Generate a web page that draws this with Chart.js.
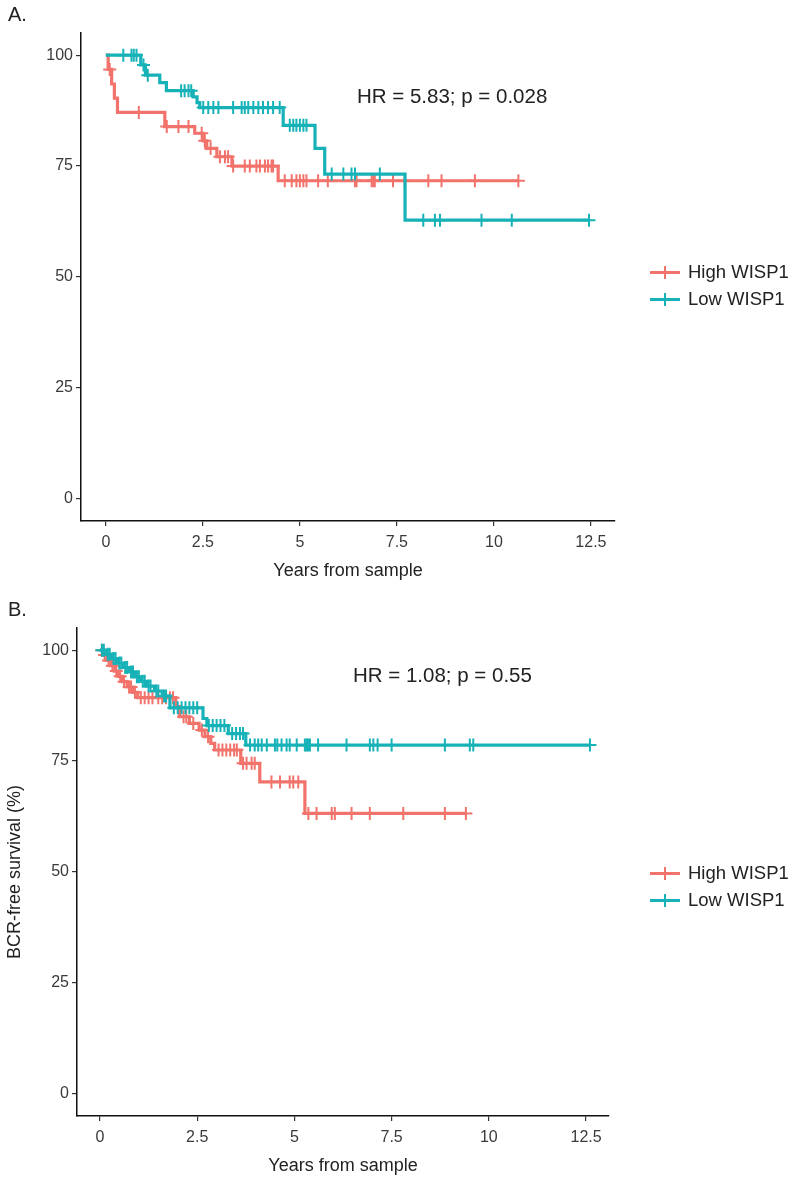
<!DOCTYPE html>
<html>
<head>
<meta charset="utf-8">
<script src="https://cdn.jsdelivr.net/npm/chart.js@4"></script>
<style>
  html, body { margin: 0; padding: 0; background: #fff; }
  #page { position: relative; width: 800px; height: 1177px; overflow: hidden; font-family: "Liberation Sans", Arial, sans-serif; color: #222; }
  .panel { position: absolute; left: 0; width: 800px; height: 590px; }
  .tag { position: absolute; font-size: 20px; color: #222; }
  .hr { position: absolute; font-size: 20.5px; color: #222; white-space: nowrap; }
  .leg { position: absolute; font-size: 18.5px; color: #222; white-space: nowrap; }
  .key { position: absolute; width: 30px; height: 3px; }
  .key i { position: absolute; left: 14px; top: -5px; width: 2px; height: 13px; background: inherit; }
</style>
</head>
<body>
<div id="page">
  <div class="panel" style="top:0"><canvas id="chartA" width="800" height="590"></canvas></div>
  <div class="panel" style="top:595px"><canvas id="chartB" width="800" height="590"></canvas></div>
  <div class="tag" style="left:8px;top:3px">A.</div>
  <div class="tag" style="left:8px;top:598px">B.</div>
  <div class="hr" style="left:357px;top:84px">HR = 5.83; p = 0.028</div>
  <div class="hr" style="left:353px;top:663px">HR = 1.08; p = 0.55</div>
  <div id="legA"></div>
  <div id="legB"></div>
</div>
<script>
const xTicks = [0, 2.5, 5, 7.5, 10, 12.5];
const yTicks = [0, 25, 50, 75, 100];
const groups = ['High WISP1', 'Low WISP1'];
const colors = ['#F2736B', '#17B2B7'];

// Panel A - events (time, survival %) and censor times
const aHighTime = [0.06, 0.15, 0.22, 0.3, 1.52, 2.29, 2.51, 2.6, 2.86, 3.25, 4.44];
const aHighSurv = [96.8, 93.5, 90.3, 87.1, 83.9, 82.4, 80.7, 79.0, 77.1, 75.0, 71.7];
const aHighCensor = [0.1, 0.85, 1.57, 1.87, 2.13, 2.47, 2.55, 2.7, 2.94, 3.07, 3.15,
  3.28, 3.58, 3.71, 3.88, 3.97, 4.1, 4.18, 4.27, 4.31,
  4.61, 4.79, 4.91, 5.0, 5.09, 5.17, 5.47, 5.72, 6.42, 6.46, 6.85, 6.89, 6.93,
  7.4, 7.7, 8.31, 8.65, 9.51, 10.63];
const aLowTime = [0.9, 1.02, 1.39, 1.56, 2.25, 2.35, 2.42, 4.57, 5.39, 5.64, 7.71];
const aLowSurv = [97.8, 95.5, 93.8, 92.0, 90.6, 89.3, 88.2, 84.2, 79.0, 73.2, 62.8];
const aLowCensor = [0.45, 0.66, 0.72, 0.79, 0.97, 1.08, 1.94, 2.03, 2.13, 2.2,
  2.51, 2.64, 2.77, 2.9, 3.28, 3.5, 3.58, 3.67, 3.8, 3.93, 4.05, 4.18, 4.31, 4.48,
  4.74, 4.83, 4.91, 5.0, 5.09, 5.17, 5.82, 6.12, 6.33, 6.42, 7.06,
  8.18, 8.48, 8.61, 9.68, 10.46, 12.45];

// Panel B
const bHighTime = [0.08, 0.18, 0.28, 0.38, 0.48, 0.58, 0.7, 0.85, 0.97, 1.95, 2.05, 2.3,
  2.55, 2.7, 2.85, 2.95, 3.62, 4.11, 5.27];
const bHighSurv = [98.9, 97.7, 96.5, 95.3, 94.1, 92.9, 91.7, 90.5, 89.3, 87.3, 85.0, 83.5,
  82.0, 80.5, 79.0, 77.5, 74.5, 70.3, 63.2];
const bHighCensor = [0.05, 0.12, 0.22, 0.32, 0.42, 0.52, 0.62, 0.75, 0.8, 0.9, 1.05, 1.15,
  1.25, 1.35, 1.5, 1.6, 1.7, 1.8, 1.88, 2.15, 2.22, 2.4, 2.62, 2.78, 3.05, 3.15, 3.25,
  3.35, 3.45, 3.52, 3.68, 3.77, 3.9, 3.98, 4.41, 4.63, 4.88, 4.97, 5.1, 5.36, 5.57,
  5.96, 6.04, 6.47, 6.94, 7.8, 8.87, 9.41];
const bLowTime = [0.15, 0.3, 0.45, 0.6, 0.75, 0.9, 1.05, 1.2, 1.4, 1.6, 1.8, 2.65, 2.75, 3.3, 3.75];
const bLowSurv = [99.1, 98.1, 97.1, 96.1, 95.1, 94.0, 93.0, 91.9, 90.8, 89.7, 87.0, 84.6, 83.0, 81.2, 78.6];
const bLowCensor = [0.05, 0.1, 0.2, 0.25, 0.35, 0.4, 0.5, 0.55, 0.65, 0.7, 0.8, 0.85, 0.95,
  1.0, 1.1, 1.15, 1.25, 1.3, 1.45, 1.5, 1.65, 1.7, 1.9, 2.0, 2.1, 2.2, 2.3, 2.4, 2.5,
  2.8, 2.9, 3.0, 3.1, 3.2, 3.4, 3.5, 3.6, 3.68, 3.86, 3.98, 4.07, 4.16, 4.29, 4.5, 4.56,
  4.67, 4.8, 4.88, 5.06, 5.27, 5.31, 5.35, 5.4, 5.61, 6.34, 6.94, 7.03, 7.14, 7.5,
  8.87, 9.51, 9.6, 12.6];

// survival level at time t (step function)
function survAt(times, surv, t) {
  let s = 100;
  for (let i = 0; i < times.length; i++) {
    if (times[i] <= t) s = surv[i];
  }
  return s;
}

function curveDatasets(times, surv, censor, color) {
  const pts = [{x: 0, y: 100}];
  times.forEach((t, i) => pts.push({x: t, y: surv[i]}));
  const end = Math.max(times[times.length - 1], censor[censor.length - 1]);
  pts.push({x: end, y: surv[surv.length - 1]});
  return [
    {
      data: pts, showLine: true, stepped: true, borderColor: color,
      borderWidth: 3.2, pointRadius: 0, fill: false
    },
    {
      data: censor.map(t => ({x: t, y: survAt(times, surv, t)})),
      showLine: false, pointStyle: 'cross', pointRadius: 6.5,
      borderColor: color, borderWidth: 2
    }
  ];
}

function makeChart(id, datasets, yAxisW, rightPad, xMin, xMax, yTitle) {
  const ctx = document.getElementById(id).getContext('2d');
  return new Chart(ctx, {
    type: 'scatter',
    data: { datasets: datasets },
    options: {
      responsive: false,
      animation: false,
      layout: { padding: { left: 0, right: rightPad, top: 33, bottom: 4 } },
      plugins: { legend: { display: false }, tooltip: { enabled: false } },
      scales: {
        x: {
          type: 'linear', min: xMin, max: xMax,
          afterBuildTicks: axis => { axis.ticks = xTicks.map(v => ({value: v})); },
          afterFit: scale => { scale.height = 65; },
          ticks: { color: '#3a3a3a', font: { size: 16, family: 'Liberation Sans' }, padding: 7,
                   callback: v => String(v) },
          grid: { drawOnChartArea: false, drawTicks: true, tickLength: 5, color: '#333', lineWidth: 1.2 },
          border: { display: true, color: '#111', width: 1.5 },
          title: { display: true, text: 'Years from sample', color: '#222',
                   font: { size: 18, family: 'Liberation Sans' } }
        },
        y: {
          type: 'linear', min: -5, max: 105,
          afterBuildTicks: axis => { axis.ticks = yTicks.map(v => ({value: v})); },
          afterFit: scale => { scale.width = yAxisW; },
          ticks: { color: '#3a3a3a', font: { size: 16, family: 'Liberation Sans' }, padding: 3,
                   callback: v => String(v) },
          grid: { drawOnChartArea: false, drawTicks: true, tickLength: 5, color: '#333', lineWidth: 1.2 },
          border: { display: true, color: '#111', width: 1.5 },
          title: { display: !!yTitle, text: yTitle || '', color: '#222',
                   font: { size: 18, family: 'Liberation Sans' } }
        }
      }
    }
  });
}

// teal drawn on top, so it goes first
makeChart('chartA',
  [...curveDatasets(aLowTime, aLowSurv, aLowCensor, colors[1]),
   ...curveDatasets(aHighTime, aHighSurv, aHighCensor, colors[0])],
  81, 185, -0.64, 13.12, null);

makeChart('chartB',
  [...curveDatasets(bLowTime, bLowSurv, bLowCensor, colors[1]),
   ...curveDatasets(bHighTime, bHighSurv, bHighCensor, colors[0])],
  77, 191, -0.59, 13.09, 'BCR-free survival (%)');

// legends
function makeLegend(id, top) {
  const box = document.getElementById(id);
  groups.forEach((g, i) => {
    const y = top + i * 27;
    const key = document.createElement('div');
    key.className = 'key';
    key.style.left = '650px';
    key.style.top = (y - 1) + 'px';
    key.style.background = colors[i];
    key.appendChild(document.createElement('i'));
    box.appendChild(key);
    const lab = document.createElement('div');
    lab.className = 'leg';
    lab.style.left = '688px';
    lab.style.top = (y - 11) + 'px';
    lab.textContent = g;
    box.appendChild(lab);
  });
}
makeLegend('legA', 272);
makeLegend('legB', 873);
</script>
</body>
</html>
